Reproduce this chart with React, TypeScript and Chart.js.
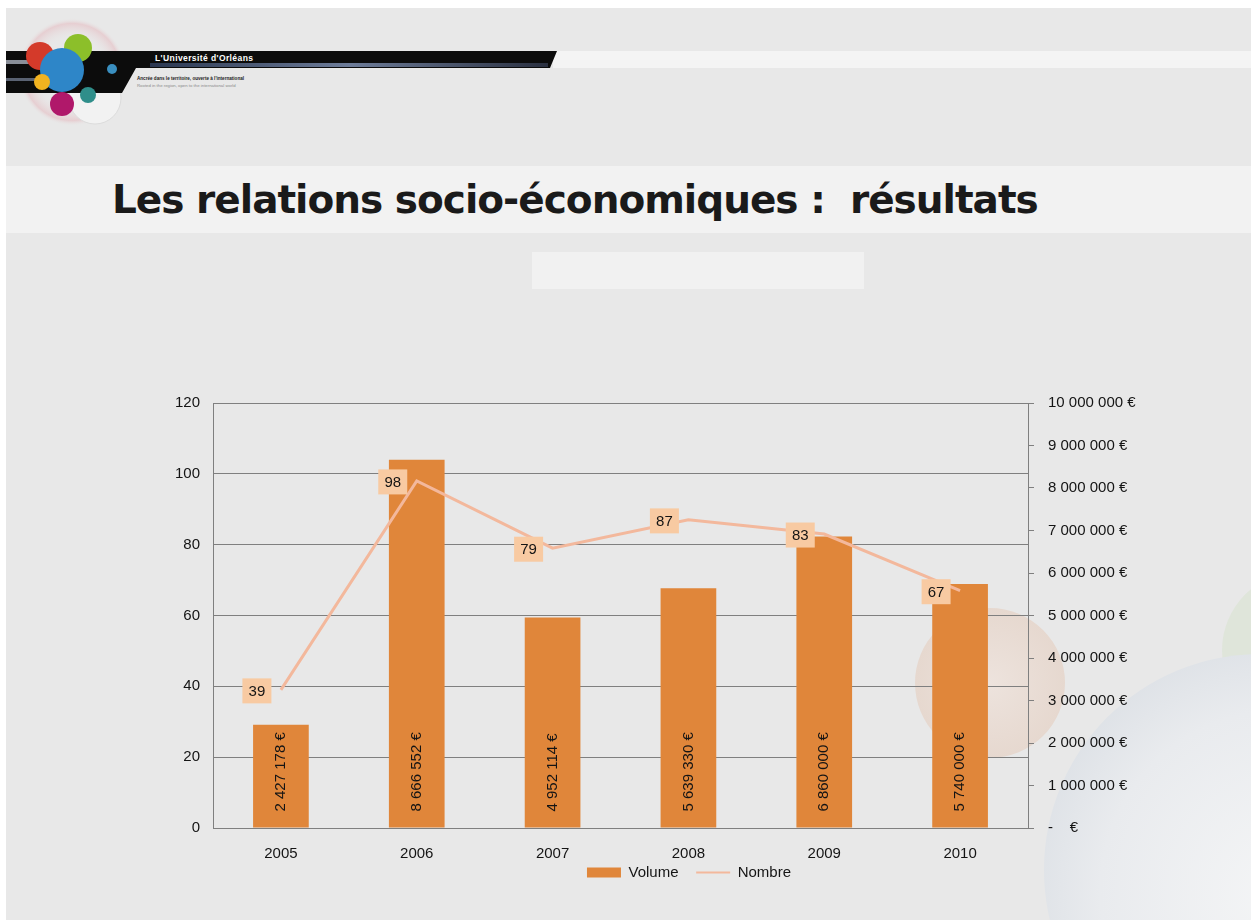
import React, { useEffect, useRef } from 'react';
import { Chart, registerables } from 'chart.js';

Chart.register(...registerables);

// ---- data ----
const years = ['2005', '2006', '2007', '2008', '2009', '2010'];
const volume = [2427178, 8666552, 4952114, 5639330, 6860000, 5740000];
const nombre = [39, 98, 79, 87, 83, 67];
const seriesNames = ['Volume', 'Nombre'];
const leftAxis = { min: 0, max: 120, step: 20 };
const rightAxis = { min: 0, max: 10000000, step: 1000000 };
const titleText = 'Les relations socio-économiques :  résultats';
const headerName = "L'Université d'Orléans";
const headerLine1 = "Ancrée dans le territoire, ouverte à l'international";
const headerLine2 = 'Rooted in the region, open to the international world';

const BAR_COLOR = '#E0863A';
const LINE_COLOR = '#F3B89C';
const LABEL_BG = '#F8CAA2';
const FONT = '"Liberation Sans", Arial, sans-serif';
const FS = 15;

const fmtEuro = (v: number) =>
  v === 0 ? '-    €' : Math.round(v).toString().replace(/\B(?=(\d{3})+(?!\d))/g, ' ') + ' €';

const valueLabels = {
  id: 'valueLabels',
  afterDatasetsDraw(chart: any) {
    const ctx = chart.ctx;
    ctx.save();
    ctx.font = FS + 'px ' + FONT;
    const barMeta = chart.getDatasetMeta(0);
    barMeta.data.forEach((el: any, i: number) => {
      const p = el.getProps(['x', 'base'], true);
      ctx.save();
      ctx.translate(p.x, p.base - 16);
      ctx.rotate(-Math.PI / 2);
      ctx.textAlign = 'left';
      ctx.textBaseline = 'middle';
      ctx.fillStyle = '#141414';
      ctx.fillText(fmtEuro(volume[i]), 0, 0);
      ctx.restore();
    });
    const lineMeta = chart.getDatasetMeta(1);
    lineMeta.data.forEach((el: any, i: number) => {
      const x = el.x - 24;
      const y = el.y + 1;
      const w = 29;
      const h = 25;
      ctx.fillStyle = LABEL_BG;
      ctx.fillRect(x - w / 2, y - h / 2, w, h);
      ctx.fillStyle = '#141414';
      ctx.textAlign = 'center';
      ctx.textBaseline = 'middle';
      ctx.fillText(String(nombre[i]), x, y + 1);
    });
    ctx.restore();
  },
};

function ChartView() {
  const ref = useRef<HTMLCanvasElement | null>(null);
  useEffect(() => {
    if (!ref.current) return;
    const chart = new Chart(ref.current, {
      type: 'bar',
      data: {
        labels: years,
        datasets: [
          {
            type: 'bar',
            label: seriesNames[0],
            data: volume,
            yAxisID: 'yR',
            backgroundColor: BAR_COLOR,
            borderWidth: 0,
            categoryPercentage: 0.82,
            barPercentage: 0.5,
            order: 2,
          } as any,
          {
            type: 'line',
            label: seriesNames[1],
            data: nombre,
            yAxisID: 'yL',
            borderColor: LINE_COLOR,
            backgroundColor: LINE_COLOR,
            borderWidth: 3,
            pointRadius: 0,
            tension: 0,
            order: 1,
          } as any,
        ],
      },
      options: {
        animation: false,
        responsive: false,
        maintainAspectRatio: false,
        layout: { padding: { left: 77, right: 0, top: 19, bottom: 0 } },
        plugins: {
          tooltip: { enabled: false },
          legend: {
            position: 'bottom',
            labels: {
              font: { family: FONT, size: FS },
              color: '#141414',
              usePointStyle: true,
              pointStyleWidth: 34,
              boxWidth: 34,
              boxHeight: 10,
              padding: 1,
              sort: (a: any, b: any) => a.datasetIndex - b.datasetIndex,
              generateLabels: (chart: any) => {
                const items = Chart.defaults.plugins.legend.labels.generateLabels(chart);
                return items
                  .map((it: any) => {
                    if (it.datasetIndex === 0) {
                      return {
                        ...it,
                        text: it.text + '    ',
                        pointStyle: 'rect',
                        fillStyle: BAR_COLOR,
                        strokeStyle: BAR_COLOR,
                        lineWidth: 0,
                      };
                    }
                    return { ...it, pointStyle: 'line', fillStyle: LINE_COLOR, strokeStyle: LINE_COLOR, lineWidth: 2 };
                  })
                  .sort((a: any, b: any) => a.datasetIndex - b.datasetIndex);
              },
            },
          },
        },
        scales: {
          x: {
            grid: { display: false, drawTicks: false },
            border: { display: true, color: '#7f7f7f', width: 1 },
            ticks: { font: { family: FONT, size: FS }, color: '#141414', padding: 17 },
            afterFit: (s: any) => { s.height = 36; },
          },
          yL: {
            position: 'left',
            min: leftAxis.min,
            max: leftAxis.max,
            ticks: { stepSize: leftAxis.step, font: { family: FONT, size: FS }, color: '#141414', padding: 13 },
            grid: { color: '#7f7f7f', lineWidth: 1, drawTicks: false },
            border: { display: true, color: '#7f7f7f', width: 1 },
            afterFit: (s: any) => { s.width = 86; },
          },
          yR: {
            position: 'right',
            min: rightAxis.min,
            max: rightAxis.max,
            ticks: {
              stepSize: rightAxis.step,
              font: { family: FONT, size: FS },
              color: '#141414',
              padding: 14,
              callback: (v: any) => fmtEuro(Number(v)),
            },
            grid: { drawOnChartArea: false, drawTicks: true, tickLength: 6, color: '#7f7f7f' },
            border: { display: true, color: '#7f7f7f', width: 1 },
            afterFit: (s: any) => { s.width = 223; },
          },
        },
      },
      plugins: [valueLabels],
    } as any);
    return () => chart.destroy();
  }, []);
  return (
    <canvas
      ref={ref}
      width={1201}
      height={510}
      style={{ position: 'absolute', left: 50, top: 380, width: 1201, height: 510 }}
    />
  );
}

function Header() {
  return (
    <svg width={600} height={140} style={{ position: 'absolute', left: 0, top: 0 }}>
      <defs>
        <linearGradient id="steel" x1="0" x2="1" y1="0" y2="0">
          <stop offset="0" stopColor="#2a3650" />
          <stop offset="0.5" stopColor="#6d7c99" />
          <stop offset="1" stopColor="#2a3040" />
        </linearGradient>
        <radialGradient id="halo" cx="0.5" cy="0.5" r="0.5">
          <stop offset="0.6" stopColor="#e8e8e8" stopOpacity="0" />
          <stop offset="0.9" stopColor="#e6c8cc" stopOpacity="0.8" />
          <stop offset="1" stopColor="#e8e8e8" stopOpacity="0" />
        </radialGradient>
      </defs>
      <circle cx={72} cy={72} r={54} fill="url(#halo)" />
      <circle cx={95} cy={98} r={26} fill="#f2f2f2" stroke="#dcdcdc" />
      <polygon points="6,51 557,51 550,68 136,68 122,93 6,93" fill="#0c0c0c" />
      <rect x={150} y={63} width={398} height={4} fill="url(#steel)" />
      <rect x={6} y={60} width={40} height={4} fill="#8a8f99" />
      <rect x={6} y={78} width={40} height={3} fill="#5a6272" />
      <circle cx={40} cy={56} r={14} fill="#d43a2a" />
      <circle cx={78} cy={48} r={14} fill="#8cbf2a" />
      <circle cx={62} cy={70} r={22} fill="#2e86c8" />
      <circle cx={42} cy={82} r={8} fill="#f2b320" />
      <circle cx={62} cy={104} r={12} fill="#b0186a" />
      <circle cx={88} cy={95} r={8} fill="#2f8e8a" />
      <circle cx={112} cy={69} r={5} fill="#3a8fc0" />
      <text x={155} y={61} fill="#ffffff" fontFamily={FONT} fontWeight="bold" fontSize={8.5} letterSpacing={0.4}>
        {headerName}
      </text>
      <text x={137} y={80} fill="#222" fontFamily={FONT} fontSize={4.6} fontWeight="bold">
        {headerLine1}
      </text>
      <text x={137} y={87} fill="#8a8a8a" fontFamily={FONT} fontSize={4.3}>
        {headerLine2}
      </text>
    </svg>
  );
}

function Decorations() {
  return (
    <svg width={1251} height={920} style={{ position: 'absolute', left: 0, top: 0 }}>
      <defs>
        <radialGradient id="bigc" cx="0.55" cy="0.55" r="0.6">
          <stop offset="0" stopColor="#f4f5f6" />
          <stop offset="0.7" stopColor="#e9ebee" />
          <stop offset="1" stopColor="#dde1e6" />
        </radialGradient>
        <radialGradient id="peach" cx="0.5" cy="0.5" r="0.5">
          <stop offset="0" stopColor="#ede3dd" />
          <stop offset="1" stopColor="#e6d8cf" />
        </radialGradient>
      </defs>
      <circle cx={990} cy={683} r={75} fill="url(#peach)" />
      <circle cx={1300} cy={650} r={78} fill="#dfe5da" />
      <circle cx={1260} cy={870} r={216} fill="url(#bigc)" />
    </svg>
  );
}

export default function App() {
  return (
    <div
      style={{
        position: 'fixed',
        left: 0,
        top: 0,
        width: 1251,
        height: 920,
        background: '#ffffff',
        overflow: 'hidden',
      }}
    >
      <div style={{ position: 'absolute', left: 6, top: 8, right: 0, bottom: 0, background: '#e8e8e8' }} />
      <Decorations />
      <div style={{ position: 'absolute', left: 553, top: 51, right: 0, height: 17, background: '#f4f4f4' }} />
      <Header />
      <div style={{ position: 'absolute', left: 6, top: 166, right: 0, height: 67, background: '#f2f2f2' }} />
      <div
        style={{
          position: 'absolute',
          left: 112,
          top: 176,
          whiteSpace: 'pre',
          fontFamily: '"DejaVu Sans", sans-serif',
          fontWeight: 700,
          fontSize: 39,
          letterSpacing: -1,
          lineHeight: '47px',
          color: '#1a1a1a',
        }}
      >
        {titleText}
      </div>
      <div style={{ position: 'absolute', left: 532, top: 252, width: 332, height: 37, background: '#f1f1f1' }} />
      <ChartView />
    </div>
  );
}
